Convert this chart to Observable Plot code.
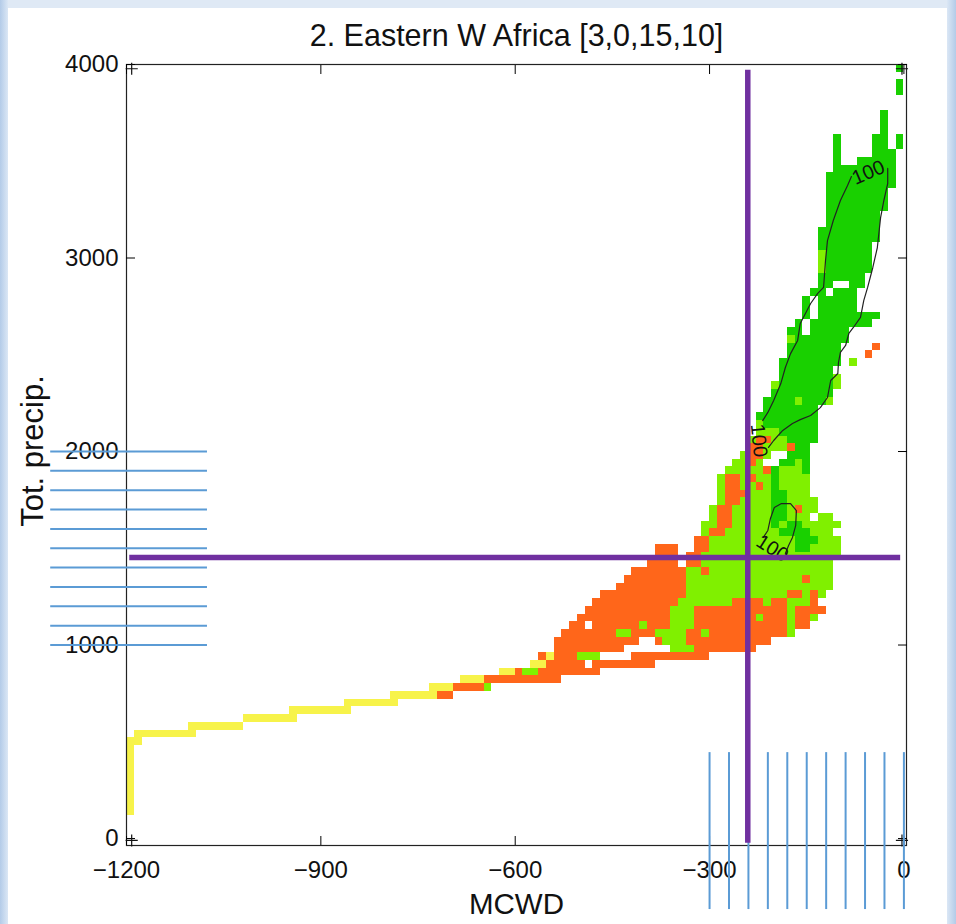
<!DOCTYPE html>
<html><head><meta charset="utf-8">
<script src="https://cdn.jsdelivr.net/npm/d3@7"></script>
<script src="https://cdn.jsdelivr.net/npm/@observablehq/plot@0.6"></script>
<style>
html,body{margin:0;padding:0;}
body{width:956px;height:924px;position:relative;overflow:hidden;background:#dfe9f5;font-family:"Liberation Sans",Arial,sans-serif;}
#edgeL{position:absolute;left:0;top:0;width:8px;height:924px;background:linear-gradient(to right,#b3cbe8,#dbe7f5);}
#edgeR{position:absolute;right:0;top:0;width:9px;height:924px;background:linear-gradient(to left,#b3cbe8,#dbe7f5);}
#panel{position:absolute;left:8px;top:8px;width:939px;height:916px;background:#fff;}
#chart{position:absolute;left:0;top:0;}
</style></head><body>
<div id="edgeL"></div><div id="edgeR"></div><div id="panel"></div>
<div id="chart"></div>
<script>
// ---- text ----
const titleText = "2. Eastern W Africa [3,0,15,10]";
const xLabel = "MCWD";
const yLabel = "Tot. precip.";
const xTicks = [-1200, -900, -600, -300, 0];
const yTicks = [0, 1000, 2000, 3000, 4000];

// ---- grid of cells: "row:firstColumn:run-length string" (cells 12 MCWD x 40 mm) ----
const cellWidth = 12;
const cellHeight = 40;
const colorKeys = ["y", "o", "l", "g"];
const colorValues = ["#f7f34a", "#ff661a", "#80f000", "#19d000"];
const cellRows = [
  "99:99:1g", "97:99:1g", "96:99:1g",
  "93:97:1g", "92:97:1g", "91:97:1g",
  "90:91:1g4.2g1.1g", "89:91:1g4.2g1.1g", "88:91:1g4.3g", "87:91:1g2.5g",
  "86:91:8g", "85:90:9g", "84:90:9g", "83:90:8g", "82:90:8g", "81:90:8g",
  "80:90:7g", "79:90:7g", "78:89:8g", "77:89:8g", "76:89:7g",
  "75:89:1l6g", "74:89:1l6g", "73:89:1l6g", "72:89:6g",
  "71:89:2g2.2g", "70:88:2g1.3g", "69:87:1g1.5g", "68:87:1g1.5g",
  "67:87:1g1.8g", "66:86:1g1.8g", "65:85:2g1.5g", "64:85:1l7g",
  "63:85:7g4.1o", "62:85:7g3.1o", "61:84:8g1.1l", "60:84:7g",
  "59:84:7g1l", "58:83:1l7g1l", "57:83:8g", "56:82:4g1l3g1l",
  "55:82:7g", "54:81:8g", "53:81:1l7g", "52:81:3l5g",
  "51:80:1l2o2l4g", "50:80:2o3l1o2g", "49:79:1l2o1l2.3g", "48:78:2l1o1l2.2g1l1g",
  "47:77:5l1o1g3l1g", "46:76:1l2o1l1o2l1g4l", "45:76:1l2o2l1o1l1g4l",
  "44:76:1l3o3l2g3l", "43:76:1l2o4l2g4l", "42:75:1l2o5l2g1l1o2l",
  "41:75:1l2o5l2g3l1.2l", "40:74:2l2o5l1g1l2g5l", "39:74:1l2o7l4g3l",
  "38:73:2o11l3g3l", "37:68:3o2.2o11l2g4l", "36:68:3o1.2o18l",
  "35:67:4o1.2o17l", "34:65:7o2l1o16l", "33:64:8o15l1o3l", "32:63:9o19l",
  "31:61:11o13l2o1l1o1l", "30:60:11o7l4o1l2o3l1o", "29:59:11o3l12o1l4o",
  "28:58:12o3l8o1l3o1l2o1l", "27:57:2o1.6o1l3o3l12o1l2o",
  "26:56:7o2l3o4l2o1l10o1l", "25:55:11o2.1o3l11o", "24:55:9o6.3l8o",
  "23:53:1o1y3o3l4.10o", "22:52:2y5o1.8o", "21:48:2y1o2l8o",
  "20:43:3y10o", "19:39:3y4o1l", "18:34:6y2o", "17:28:7y", "16:21:8y",
  "15:15:7y", "14:8:7y", "13:1:8y", "12:0:2y",
  "11:0:1y", "10:0:1y", "9:0:1y", "8:0:1y", "7:0:1y", "6:0:1y", "5:0:1y", "4:0:1y", "3:0:1y"
];

// ---- "100" contour lines (MCWD, precip) ----
const contourSeg = ["a","a","a","a","a","a","a","a","a","a","a","a","a","a","a","a","a","a","a","a","a","a","a","a",
  "b","b","b","b","b","b","b","b","b","b","b","b","b","b","b","b","b",
  "c","c","c","c","c","c","c","c","c","c","c"];
const contourX = [-25,-25,-31,-36,-41,-48,-56,-62,-67,-78,-85,-90,-98,-101,-102,-113,-118,-129,-144,-160,-172,-187,-201,-209,
  -218,-210,-201,-190,-183,-175,-164,-160,-144,-133,-124,-121,-118,-109,-98,-87,-81,
  -183,-178,-172,-167,-166,-175,-189,-200,-206,-210,-217];
const contourY = [3463,3385,3297,3209,3054,2951,2848,2780,2693,2641,2610,2548,2512,2460,2403,2367,2279,2227,2186,2165,2145,2109,2057,2021,
  2160,2202,2264,2351,2434,2506,2574,2662,2765,2817,2848,2987,3090,3194,3297,3375,3421,
  1473,1514,1556,1618,1695,1731,1731,1711,1654,1592,1556];
const contourLabelX = [-55, -224, -203];
const contourLabelY = [3442, 2057, 1499];
const contourLabelAngle = [-23, 84, 32];
const contourLabelText = ["100", "100", "100"];

// ---- overlay lines ----
const blueY = [1000,1100,1200,1300,1400,1500,1600,1700,1800,1900,2000];
const blueYFrom = -1317, blueYTo = -1075;
const blueX = [-300,-270,-240,-210,-180,-150,-120,-90,-60,-30,0];
const blueXFrom = -367, blueXTo = 444;
const purpleX = -241, purpleXFrom = -25, purpleXTo = 3970;
const purpleY = 1452, purpleYFrom = -1195, purpleYTo = -5;
const cornerX = [-1192, -1192, -3, -3];
const cornerY = [-10, 3978, -10, 3978];

// ---- build ----
const cells = [];
for (const entry of cellRows) {
  const [r, c0, rle] = entry.split(":");
  let col = +c0;
  for (const m of rle.matchAll(/(\d+)([a-z.])/g)) {
    const n = +m[1], k = m[2];
    if (k !== ".") cells.push({k, x1: -1200 + cellWidth * col, x2: -1200 + cellWidth * (col + n), y1: cellHeight * +r, y2: cellHeight * (+r + 1)});
    col += n;
  }
}
const contour = contourX.map((x, i) => ({x, y: contourY[i], seg: contourSeg[i]}));
const contourLabels = contourLabelX.map((x, i) => ({x, y: contourLabelY[i], a: contourLabelAngle[i], t: contourLabelText[i]}));
const corners = cornerX.map((x, i) => ({x, y: cornerY[i]}));
const fmt = d3.format("d");
const blue = "#5b9bd5", purple = "#7030a0";

const chart = Plot.plot({
  width: 956, height: 924,
  marginLeft: 126, marginRight: 50, marginTop: 64, marginBottom: 79,
  x: {domain: [-1200, 4]},
  y: {domain: [-36, 4000]},
  color: {type: "ordinal", domain: colorKeys, range: colorValues},
  style: {background: "transparent", fontFamily: "Liberation Sans, Arial, sans-serif", overflow: "visible"},
  marks: [
    Plot.rect(cells, {x1: "x1", x2: "x2", y1: "y1", y2: "y2", fill: "k", shapeRendering: "crispEdges"}),
    Plot.line(contour, {x: "x", y: "y", z: "seg", stroke: "#222", strokeWidth: 1.2}),
    Plot.text(contourLabels, {x: "x", y: "y", text: "t", rotate: "a", fontSize: 20, fill: "#111"}),
    Plot.frame({stroke: "#222", strokeWidth: 1.2}),
    Plot.axisX(xTicks, {anchor: "bottom", tickSize: 9, dy: -9, fill: "none", label: null, tickFormat: fmt}),
    Plot.axisX(xTicks, {anchor: "top", tickSize: 9, dy: 9, fill: "none", label: null, tickFormat: fmt}),
    Plot.axisY(yTicks, {anchor: "left", tickSize: 9, dx: 9, fill: "none", label: null, tickFormat: fmt}),
    Plot.axisY(yTicks, {anchor: "right", tickSize: 9, dx: -9, fill: "none", label: null, tickFormat: fmt}),
    Plot.axisX(xTicks, {anchor: "bottom", tickSize: 0, tickPadding: 15, label: null, tickFormat: fmt, fontSize: 24, fill: "#111"}),
    Plot.axisY(yTicks, {anchor: "left", tickSize: 0, tickPadding: 8, label: null, tickFormat: fmt, fontSize: 24, fill: "#111"}),
    Plot.dot(corners, {x: "x", y: "y", symbol: "plus", r: 4, stroke: "#111", strokeWidth: 1.2}),
    Plot.ruleY(blueY, {y: d => d, x1: blueYFrom, x2: blueYTo, stroke: blue, strokeWidth: 2}),
    Plot.ruleX(blueX, {x: d => d, y1: blueXFrom, y2: blueXTo, stroke: blue, strokeWidth: 2}),
    Plot.ruleX([purpleX], {x: d => d, y1: purpleXFrom, y2: purpleXTo, stroke: purple, strokeWidth: 5.5}),
    Plot.ruleY([purpleY], {y: d => d, x1: purpleYFrom, x2: purpleYTo, stroke: purple, strokeWidth: 5.5}),
    Plot.text([titleText], {frameAnchor: "top", lineAnchor: "middle", dy: -28, fontSize: 30.5, fill: "#111"}),
    Plot.text([xLabel], {frameAnchor: "bottom", lineAnchor: "middle", dy: 59, fontSize: 29.5, fill: "#111"}),
    Plot.text([yLabel], {frameAnchor: "left", textAnchor: "middle", lineAnchor: "middle", dx: -93, dy: -4, rotate: -90, fontSize: 31, fill: "#111"})
  ]
});
document.getElementById("chart").appendChild(chart);
</script>
</body></html>
